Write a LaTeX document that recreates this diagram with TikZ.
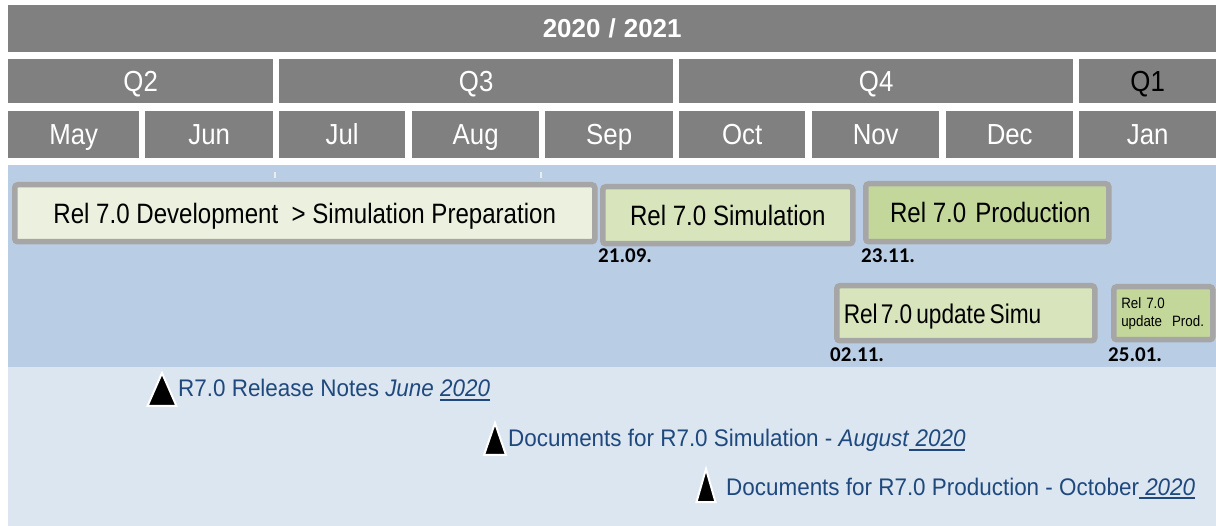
\documentclass[tikz,border=0pt]{standalone}
\usepackage{fontspec}
\setmainfont{Liberation Sans}
\newfontfamily\hdrfont[FakeStretch=0.89]{Liberation Sans}
\newfontfamily\boxfont[FakeStretch=0.86]{Liberation Sans}
\newfontfamily\tightfont[FakeStretch=0.84]{Liberation Sans}
\newfontfamily\notefont[FakeStretch=0.935]{Liberation Sans}
\newfontfamily\datefont{Carlito}
\definecolor{hdrgray}{HTML}{808080}
\definecolor{boxgray}{HTML}{A6A6A6}
\definecolor{bandblue}{HTML}{B9CDE5}
\definecolor{bandlight}{HTML}{DCE6F1}
\definecolor{fillA}{HTML}{EBF1DE}
\definecolor{fillB}{HTML}{D8E4BC}
\definecolor{fillC}{HTML}{C4D79B}
\definecolor{noteblue}{HTML}{1F497D}
\newcommand\ulx[1]{\setbox0=\hbox{#1}\rlap{\rule[-4pt]{\wd0}{1.8pt}}\box0}
\tikzset{
  hdr/.style={fill=hdrgray, draw=none, inner sep=0pt, anchor=north west, text=white,
    font=\hdrfont\fontsize{29}{31}\selectfont, text height=20.5pt, text depth=0pt},
  gbox/.style={draw=boxgray, line width=5.5pt, rounded corners=3pt, anchor=north west,
    inner sep=0pt, text=black, font=\boxfont\fontsize{28}{30}\selectfont},
  oneline/.style={text height=20pt, text depth=0pt},
  datelbl/.style={font=\datefont\bfseries\fontsize{21}{24}\selectfont, anchor=west, inner sep=0pt, text=black},
  note/.style={font=\notefont\fontsize{24}{28}\selectfont, text=noteblue, anchor=base west, inner sep=0pt},
  tri/.style={fill=black, draw=white, line width=2pt, line join=miter},
  tick/.style={draw=white!85!gray, line width=1.5pt}
}
\begin{document}
\begin{tikzpicture}[x=1pt, y=-1pt]
\fill[white] (0,0) rectangle (1216,526);
\useasboundingbox (0,0) rectangle (1216,526);
% header rows
\node[hdr, minimum width=1208pt, minimum height=47pt, text height=18.6pt,
  font=\fontsize{26}{28}\selectfont\bfseries] (year) at (8,5) {2020\hspace{8pt}/\hspace{8pt}2021};
\node[hdr, minimum width=265pt, minimum height=44pt] (q2) at (8,59) {Q2};
\node[hdr, minimum width=394pt, minimum height=44pt] (q3) at (279,59) {Q3};
\node[hdr, minimum width=394pt, minimum height=44pt] (q4) at (679,59) {Q4};
\node[hdr, minimum width=137pt, minimum height=44pt, text=black] (q1) at (1079,59) {Q1};
\node[hdr, minimum width=131pt, minimum height=47pt] (may) at (8,111) {May};
\node[hdr, minimum width=128pt, minimum height=47pt] (jun) at (145,111) {Jun};
\node[hdr, minimum width=126pt, minimum height=47pt] (jul) at (279,111) {Jul};
\node[hdr, minimum width=127pt, minimum height=47pt] (aug) at (412,111) {Aug};
\node[hdr, minimum width=128pt, minimum height=47pt] (sep) at (545,111) {Sep};
\node[hdr, minimum width=126pt, minimum height=47pt] (oct) at (679,111) {Oct};
\node[hdr, minimum width=127pt, minimum height=47pt] (nov) at (812,111) {Nov};
\node[hdr, minimum width=127pt, minimum height=47pt] (dec) at (946,111) {Dec};
\node[hdr, minimum width=137pt, minimum height=47pt] (jan) at (1079,111) {Jan};
% bands
\fill[bandblue] (8,165) rectangle (1216,367);
\fill[bandlight] (8,367) rectangle (1216,526);
\draw[tick] (275,172) -- (275,178);
\draw[tick] (541,172) -- (541,178);
% boxes
\node[gbox, oneline, fill=fillA, minimum width=580pt, minimum height=57pt] (dev) at (12,182)
  {Rel 7.0 Development\ \ > Simulation Preparation};
\node[gbox, oneline, fill=fillB, minimum width=250pt, minimum height=57pt] (sim) at (600,184)
  {Rel 7.0 Simulation};
\node[gbox, oneline, fill=fillC, minimum width=243pt, minimum height=58pt] (prod) at (863,181)
  {\hspace{6pt}Rel 7.0\hspace{9pt}Production};
\node[gbox, oneline, fill=fillB, minimum width=258pt, minimum height=55pt, text width=244pt,
  align=left, inner xsep=7pt, font=\tightfont\fontsize{27}{30}\selectfont] (usim) at (834,283)
  {Rel\hspace{3pt}7.0\hspace{4pt}update\hspace{4pt}Simu};
\node[gbox, fill=fillC, minimum width=99pt, minimum height=53pt, text width=84pt, align=left,
  inner xsep=7.5pt, font=\hdrfont\fontsize{15}{18}\selectfont] (uprod) at (1111,284)
  {Rel 7.0\\update\ \ Prod.};
% dates
\node[datelbl] (d1) at (598,256) {21.09.};
\node[datelbl] (d2) at (861,256) {23.11.};
\node[datelbl] (d3) at (830,355) {02.11.};
\node[datelbl] (d4) at (1108,355) {25.01.};
% milestones
\draw[tri] (162,373) -- (176.5,406) -- (147.5,406) -- cycle;
\draw[tri] (495,423) -- (506,455) -- (484,455) -- cycle;
\draw[tri] (706,469) -- (715.5,502) -- (696.5,502) -- cycle;
\node[note] (n1) at (178,396.7) {R7.0 Release Notes \textit{June} \ulx{\itshape 2020}};
\node[note] (n2) at (508,447) {Documents for R7.0 Simulation - \textit{August}\ulx{\itshape\ 2020}};
\node[note] (n3) at (726,495) {Documents for R7.0 Production - October\ulx{\itshape\ 2020}};
\end{tikzpicture}
\end{document}
